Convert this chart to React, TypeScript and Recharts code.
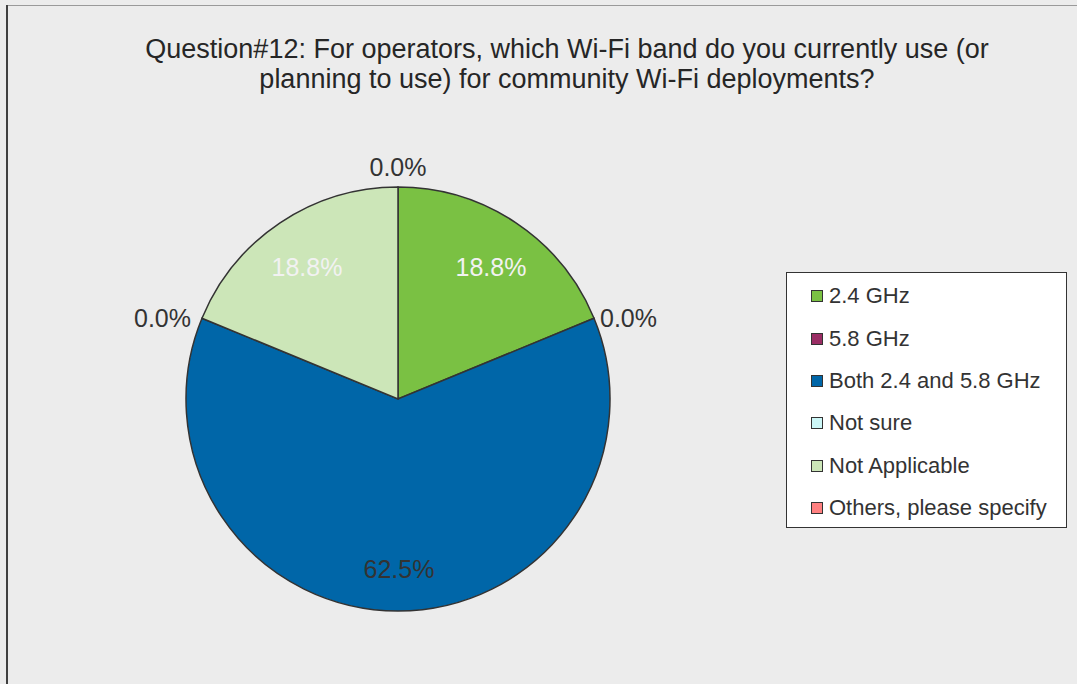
import React from 'react';
import { PieChart, Pie, Cell, Legend } from 'recharts';

const categories = [
  '2.4 GHz',
  '5.8 GHz',
  'Both 2.4 and 5.8 GHz',
  'Not sure',
  'Not Applicable',
  'Others, please specify',
];
const percentages = [18.8, 0, 62.5, 0, 18.8, 0];
const sliceColors = ['#7ac143', '#9a2d64', '#0066a8', '#ccf7f7', '#cce6b8', '#ff8080'];
const insideLabelColors = ['#f2f2f2', '#333333', '#333333', '#333333', '#f2f2f2', '#333333'];
const titleLines = [
  'Question#12: For operators, which Wi-Fi band do you currently use (or',
  'planning to use) for community Wi-Fi deployments?',
];

const data = categories.map((name, i) => ({ name, value: percentages[i] }));

const FONT = '"Liberation Sans", Arial, sans-serif';
const RAD = Math.PI / 180;

const renderLabel = (props: any) => {
  const { cx, cy, midAngle, outerRadius, value, index } = props;
  const cos = Math.cos(-midAngle * RAD);
  const sin = Math.sin(-midAngle * RAD);
  const text = Number(value).toFixed(1) + '%';
  if (value > 0) {
    const r = outerRadius * 0.78;
    return (
      <text
        x={cx + r * cos + 1}
        y={cy + r * sin + 5}
        textAnchor="middle"
        dominantBaseline="central"
        fill={insideLabelColors[index]}
        fontSize={25}
        fontFamily={FONT}
      >
        {text}
      </text>
    );
  }
  let x: number;
  let y: number;
  let anchor: 'start' | 'middle' | 'end';
  if (Math.abs(cos) < 0.2) {
    x = cx + outerRadius * cos;
    y = cy + (outerRadius + 20) * sin;
    anchor = 'middle';
  } else {
    x = cx + outerRadius * cos + (cos > 0 ? 6 : -11);
    y = cy + outerRadius * sin;
    anchor = cos > 0 ? 'start' : 'end';
  }
  return (
    <text
      x={x}
      y={y}
      textAnchor={anchor}
      dominantBaseline="central"
      fill="#333333"
      fontSize={25}
      fontFamily={FONT}
    >
      {text}
    </text>
  );
};

const LegendBox = () => (
  <div
    style={{
      width: 281,
      height: 256,
      boxSizing: 'border-box',
      border: '1.5px solid #333',
      background: '#ffffff',
      paddingTop: 2,
      fontFamily: FONT,
    }}
  >
    {categories.map((name, i) => (
      <div
        key={name}
        style={{
          height: 42.4,
          display: 'flex',
          alignItems: 'center',
          paddingLeft: 24,
        }}
      >
        <span
          style={{
            display: 'inline-block',
            width: 12,
            height: 12,
            boxSizing: 'border-box',
            border: '1.5px solid #333',
            background: sliceColors[i],
            marginRight: 6,
          }}
        />
        <span style={{ fontSize: 22, color: '#333', whiteSpace: 'nowrap' }}>{name}</span>
      </div>
    ))}
  </div>
);

export default function App() {
  return (
    <div
      style={{
        position: 'absolute',
        left: 0,
        top: 0,
        width: 1077,
        height: 684,
        background: '#ececec',
        overflow: 'hidden',
        fontFamily: FONT,
      }}
    >
      <div style={{ position: 'absolute', left: 6, top: 5, width: 1071, height: 1, background: '#9a9a9a' }} />
      <div style={{ position: 'absolute', left: 6, top: 5, width: 2, height: 679, background: '#404040' }} />
      {titleLines.map((line, i) => (
        <div
          key={i}
          style={{
            position: 'absolute',
            left: 0,
            width: 1134,
            top: 34 + i * 30,
            height: 30,
            lineHeight: '30px',
            textAlign: 'center',
            fontSize: 27,
            color: '#262626',
            whiteSpace: 'nowrap',
          }}
        >
          {line}
        </div>
      ))}
      <div style={{ position: 'absolute', left: 0, top: 0 }}>
        <PieChart width={1077} height={684} margin={{ top: 0, right: 0, bottom: 0, left: 0 }}>
          <Pie
            data={data}
            dataKey="value"
            nameKey="name"
            cx={398}
            cy={399}
            outerRadius={212}
            startAngle={90}
            endAngle={-270}
            stroke="#333333"
            strokeWidth={1.5}
            label={renderLabel}
            labelLine={false}
            isAnimationActive={false}
          >
            {data.map((d, i) => (
              <Cell key={d.name} fill={sliceColors[i]} />
            ))}
          </Pie>
          <Legend
            content={() => <LegendBox />}
            wrapperStyle={{ position: 'absolute', left: 786, top: 272, width: 281, height: 256 }}
          />
        </PieChart>
      </div>
    </div>
  );
}
